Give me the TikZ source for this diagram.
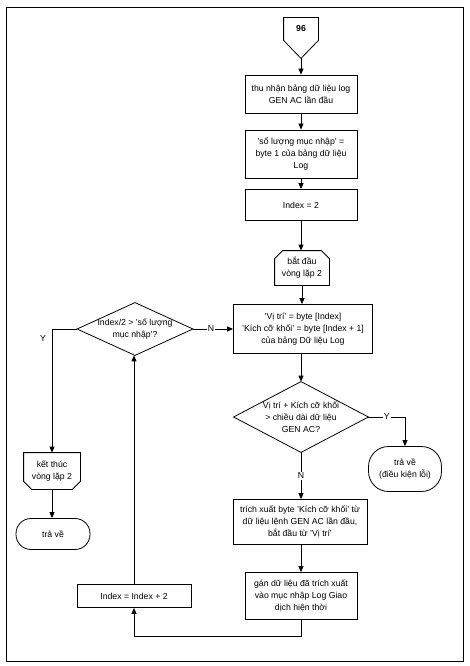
\documentclass[tikz,border=0pt]{standalone}
\usepackage{fontspec}
\setmainfont{Liberation Sans}
\usetikzlibrary{arrows.meta,calc}
\begin{document}
\begin{tikzpicture}[x=1pt,y=-1pt,
  font=\fontsize{8.7}{11.8}\selectfont, line width=0.8pt,
  box/.style={draw, align=center, inner sep=1pt},
  shp/.style={draw=none, align=center, inner sep=1pt},
  term/.style={draw, align=center, inner sep=1pt},
  lbl/.style={fill=white, inner sep=1pt},
  arr/.style={-{Triangle[length=6pt,width=5pt]}}]
\useasboundingbox (0,0) rectangle (470,666);
\draw (6,7) rectangle (463,661);

% off-page connector 96
\node[shp, minimum width=34, minimum height=22, font=\fontsize{8.7}{10}\selectfont\bfseries] (c96) at (301,29) {96};
\draw (c96.north west) -- (c96.north east) -- (c96.south east) -- ($(c96.south)+(0,18)$) coordinate (c96tip) -- (c96.south west) -- cycle;

\node[box, minimum width=112, minimum height=38] (b1) at (301,94) {thu nhận bảng dữ liệu log\\GEN AC lần đầu};
\node[box, minimum width=112, minimum height=48] (b2) at (301,154) {'số lượng mục nhập' =\\byte 1 của bảng dữ liệu\\Log};
\node[box, minimum width=112, minimum height=31] (b3) at (301,205) {Index = 2};

% loop start
\node[shp, minimum width=54, minimum height=34] (ls) at (302,268) {bắt đầu\\vòng lặp 2};
\draw ($(ls.north west)+(8,0)$) -- ($(ls.north east)+(-8,0)$) -- ($(ls.north east)+(0,8)$) -- (ls.south east) -- (ls.south west) -- ($(ls.north west)+(0,8)$) -- cycle;

\node[box, minimum width=139, minimum height=49] (b4) at (303,329) {'Vị trí' = byte [Index]\\'Kích cỡ khối' = byte [Index + 1]\\của bảng Dữ liệu Log};

% decision 1
\node[shp, minimum width=134, minimum height=70] (d1) at (301,417) {Vị trí + Kích cỡ khối\\> chiều dài dữ liệu\\GEN AC?};
\draw (d1.north) -- (d1.east) -- (d1.south) -- (d1.west) -- cycle;

\node[term, minimum width=73, minimum height=45, rounded corners=20pt] (err) at (405,469) {trả về\\(điều kiện lỗi)};

\node[box, minimum width=134, minimum height=45] (b5) at (300,522) {trích xuất byte 'Kích cỡ khối' từ\\dữ liệu lệnh GEN AC lần đầu,\\bắt đầu từ 'Vị trí'};
\node[box, minimum width=112, minimum height=47] (b6) at (301,596) {gán dữ liệu đã trích xuất\\vào mục nhập Log Giao\\dịch hiện thời};

\node[box, minimum width=114, minimum height=23] (inc) at (134,596) {Index = Index + 2};

% decision 2
\node[shp, minimum width=115, minimum height=52] (d2) at (135,329) {Index/2 > 'số lượng\\mục nhập'?};
\draw (d2.north) -- (d2.east) -- (d2.south) -- (d2.west) -- cycle;

% loop end
\node[shp, minimum width=56, minimum height=36] (le) at (52,471) {kết thúc\\vòng lặp 2};
\draw (le.north west) -- (le.north east) -- ($(le.south east)+(0,-8)$) -- ($(le.south east)+(-8,0)$) -- ($(le.south west)+(8,0)$) -- ($(le.south west)+(0,-8)$) -- cycle;

\node[term, minimum width=74, minimum height=31, rounded corners=15pt] (ret) at (53,534) {trả về};

% connectors
\draw[arr] (c96tip) -- (b1);
\draw[arr] (b1) -- (b2);
\draw[arr] (b2) -- (b3);
\draw[arr] (b3.south) -- (b3.south |- ls.north);
\draw[arr] (ls.south) -- (ls.south |- b4.north);
\draw[arr] (b4.south -| d1.north) -- (d1.north);
\draw[arr] (d1.east) -| node[lbl, pos=0.25] {Y} (err.north);
\draw[arr] (d1.south) -- node[lbl, pos=0.5] {N} (d1.south |- b5.north);
\draw[arr] (b5.south -| b6.north) -- (b6.north);
\coordinate (lp) at ($(b6.south)+(0,16)$);
\draw[arr] (b6.south) -- (lp) -| (inc.south);
\draw[arr] (inc.north) -- (inc.north |- d2.south);
\draw[arr] (d2.east) -- node[lbl, pos=0.45] {N} (d2.east -| b4.west);
\draw[arr] (d2.west) -| (le.north);
\node (yl) at (43,339) {Y};
\draw[arr] (le.south) -- (ret.north -| le.south);
\end{tikzpicture}
\end{document}
